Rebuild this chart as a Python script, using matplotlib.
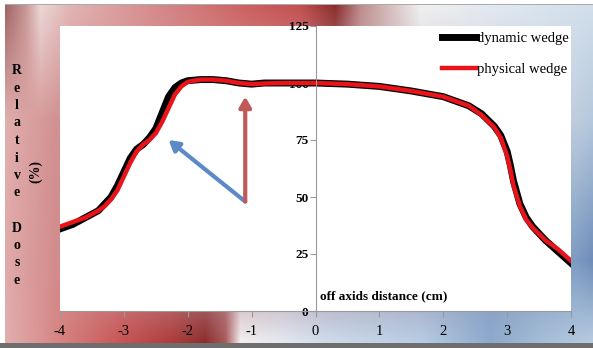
import numpy as np
import matplotlib.pyplot as plt

# Profile data (off axis distance in cm, relative dose in %)
x_dyn = [-4.0, -3.8, -3.6, -3.4, -3.3, -3.2, -3.1, -3.0, -2.9, -2.8, -2.7, -2.6,
         -2.5, -2.4, -2.3, -2.2, -2.1, -2.0, -1.8, -1.6, -1.4, -1.2, -1.0, -0.8,
         -0.5, 0.0, 0.5, 1.0, 1.5, 2.0, 2.4, 2.6, 2.8, 2.9, 3.0, 3.05, 3.1, 3.2,
         3.3, 3.4, 3.6, 3.8, 4.0]
y_dyn = [36, 38, 41, 44, 47, 50, 55, 61, 67, 71, 73, 76,
         80, 87, 94, 98, 100, 101, 101.5, 101.5, 101, 100, 99.5, 100,
         100, 100, 99.5, 98.5, 96.5, 94, 90, 86.5, 81, 77, 70, 64, 57, 47,
         41, 37, 31, 26, 21]

x_phys = x_dyn
y_phys = [37, 39, 41, 44, 46, 49, 53, 59, 65, 70, 73, 75,
          78, 83, 89, 95, 98.5, 100.5, 101.5, 101.5, 101, 100, 99.5, 99.8,
          100, 100, 99.5, 98.5, 96.5, 94, 90, 86, 80.5, 76, 68, 62, 55, 46,
          40, 36.5, 31, 27, 22]

xticks = [-4, -3, -2, -1, 0, 1, 2, 3, 4]
yticks = [0, 25, 50, 75, 100, 125]

# arrows pointing at the shoulder and the peak
arrow_base = (-1.1, 48)
arrow_red_tip = (-1.1, 94)
arrow_blue_tip = (-2.3, 75)

W, H = 593, 348
fig = plt.figure(figsize=(W / 100, H / 100), dpi=100)

# Background gradient (red on the left, blue on the right)
def row(stops, xs):
    px = [s[0] for s in stops]
    cols = np.array([s[1] for s in stops], dtype=float)
    return np.stack([np.interp(xs, px, cols[:, c]) for c in range(3)], axis=1)

xs = np.arange(W)
rows_y = [5, 120, 260, 343]
rows = [
    row([(5, (160, 100, 100)), (25, (200, 150, 150)), (40, (235, 215, 215)),
         (70, (225, 180, 180)), (150, (215, 140, 140)), (250, (205, 95, 95)),
         (300, (195, 80, 80)), (335, (140, 45, 45)), (360, (190, 140, 140)),
         (420, (240, 240, 240)), (500, (225, 232, 240)), (593, (210, 222, 235))], xs),
    row([(5, (225, 175, 175)), (55, (210, 145, 145)),
         (575, (190, 205, 222)), (593, (180, 200, 220))], xs),
    row([(5, (225, 170, 170)), (55, (210, 140, 140)),
         (575, (125, 155, 195)), (593, (110, 140, 185))], xs),
    row([(5, (225, 175, 175)), (60, (215, 130, 130)), (120, (200, 85, 85)),
         (170, (175, 60, 60)), (205, (140, 45, 45)), (225, (170, 90, 90)),
         (240, (245, 240, 240)), (280, (230, 235, 242)), (330, (205, 220, 235)),
         (420, (185, 205, 228)), (490, (140, 170, 205)), (540, (165, 190, 215)),
         (593, (185, 205, 225))], xs),
]
stack = np.stack(rows)
img = np.zeros((H, W, 3))
ys = np.arange(H)
for c in range(3):
    for i in range(W):
        img[:, i, c] = np.interp(ys, rows_y, stack[:, i, c])
img[:5, :, :] = 255
img[:, :5, :] = 255
img[4, 5:, :] = 170
img[343:, :, :] = 110

bg = fig.add_axes([0, 0, 1, 1])
bg.imshow(img.astype(np.uint8), aspect='auto')
bg.axis('off')

ax = fig.add_axes([60 / W, 1 - 311 / H, 511 / W, 285 / H])
ax.set_facecolor('white')

ax.plot(x_dyn, y_dyn, color='black', lw=5, label='dynamic wedge')
ax.plot(x_phys, y_phys, color='#e8141a', lw=3.2, label='physical wedge')

ax.annotate('', xy=arrow_blue_tip, xytext=arrow_base,
            arrowprops=dict(arrowstyle='-|>,head_width=0.35,head_length=0.6',
                            color='#5b8ac6', lw=3, shrinkA=0, shrinkB=0))
ax.annotate('', xy=arrow_red_tip, xytext=arrow_base,
            arrowprops=dict(arrowstyle='-|>,head_width=0.35,head_length=0.6',
                            color='#c0595a', lw=3, shrinkA=0, shrinkB=0))

ax.set_xlim(-4, 4)
ax.set_ylim(0, 125)
ax.spines['left'].set_position(('data', 0))
ax.spines['top'].set_visible(False)
ax.spines['right'].set_visible(False)
ax.spines['left'].set_color('#999999')
ax.spines['bottom'].set_color('#999999')
ax.set_xticks(xticks)
ax.set_yticks(yticks)
ax.set_xticklabels([str(v) for v in xticks], fontfamily='Liberation Serif', fontsize=10.5)
ax.set_yticklabels([str(v) for v in yticks], fontfamily='Liberation Serif',
                   fontsize=9.5, fontweight='bold')
ax.tick_params(axis='x', length=4, color='#999999', pad=6)
ax.tick_params(axis='y', length=4, color='#999999', pad=1)

ax.text(0.509, 0.053, 'off axids distance (cm)', transform=ax.transAxes,
        ha='left', va='center', fontfamily='Liberation Serif', fontsize=9.5,
        fontweight='bold')

fig.text(17 / W, 1 - 175.5 / H, 'R\ne\nl\na\nt\ni\nv\ne\n\nD\no\ns\ne',
         ha='center', va='center', fontfamily='Liberation Serif', fontsize=10,
         fontweight='bold', linespacing=1.45)
fig.text(36 / W, 1 - 172 / H, '(%)', rotation=90, ha='center', va='center',
         fontfamily='Liberation Serif', fontsize=10, fontweight='bold')

leg = ax.legend(loc='upper left', bbox_to_anchor=(442 / W, 1 - 32 / H),
                bbox_transform=fig.transFigure, frameon=False, borderpad=0,
                borderaxespad=0, handlelength=2.3, handletextpad=0.1,
                labelspacing=1.2, prop={'family': 'Liberation Serif', 'size': 10.5})

fig.savefig('out.png', dpi=100)
